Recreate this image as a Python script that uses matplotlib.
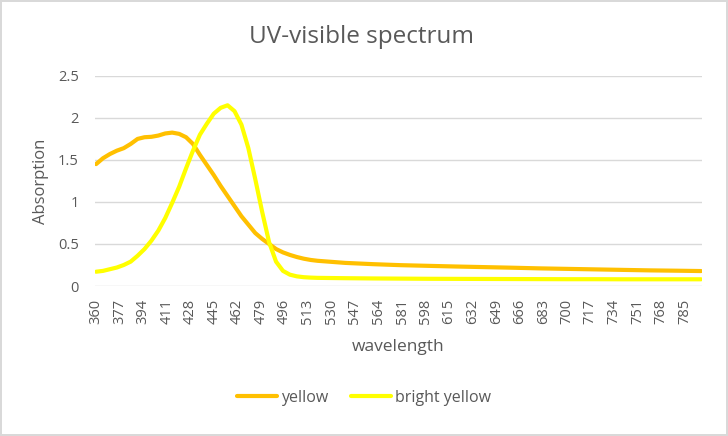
import matplotlib
matplotlib.use("Agg")
import matplotlib.pyplot as plt
import numpy as np

plt.rcParams['font.family'] = ['Open Sans', 'DejaVu Sans']

wavelength = [360, 365, 370, 375, 380, 385, 390, 395, 400, 405, 410, 415, 420, 425,
              430, 435, 440, 445, 450, 455, 460, 465, 470, 475, 480, 485, 490, 495,
              500, 505, 510, 515, 520, 540, 560, 580, 600, 620, 640, 660, 680, 700,
              720, 740, 760, 780, 797]
yellow = [1.45, 1.52, 1.57, 1.61, 1.64, 1.69, 1.75, 1.77, 1.775, 1.79, 1.815, 1.825, 1.81, 1.77,
          1.69, 1.56, 1.44, 1.32, 1.19, 1.07, 0.95, 0.83, 0.73, 0.63, 0.56, 0.50, 0.44, 0.40,
          0.37, 0.345, 0.325, 0.31, 0.30, 0.275, 0.26, 0.248, 0.24, 0.232, 0.225, 0.218, 0.21, 0.204,
          0.198, 0.192, 0.186, 0.182, 0.178]
bright_yellow = [0.17, 0.18, 0.20, 0.22, 0.25, 0.29, 0.36, 0.44, 0.54, 0.66, 0.81, 0.99, 1.18, 1.40,
                 1.61, 1.80, 1.93, 2.05, 2.12, 2.15, 2.08, 1.92, 1.64, 1.27, 0.88, 0.52, 0.29, 0.18,
                 0.135, 0.115, 0.105, 0.10, 0.097, 0.093, 0.09, 0.088, 0.086, 0.085, 0.084, 0.083, 0.082, 0.081,
                 0.081, 0.08, 0.08, 0.08, 0.08]
tick_labels = list(range(360, 786, 17))
y_ticks = [0, 0.5, 1, 1.5, 2, 2.5]

gray = '#595959'
fig = plt.figure(figsize=(7.28, 4.36), dpi=100)
fig.patch.set_facecolor('white')
fig.patch.set_edgecolor('#D9D9D9')
fig.patch.set_linewidth(1.5)

ax = fig.add_axes([0.131, 0.344, 0.833, 0.482])
ax.plot(wavelength, yellow, color='#FFC000', lw=3, solid_capstyle='round', label='yellow')
ax.plot(wavelength, bright_yellow, color='#FFFF00', lw=3, solid_capstyle='round', label='bright yellow')

ax.set_xlim(359.5, 797.5)
ax.set_ylim(0, 2.5)
ax.set_yticks(y_ticks)
ax.set_yticklabels(['0', '0.5', '1', '1.5', '2', '2.5'])
ax.set_xticks(tick_labels)
ax.set_xticklabels([str(t) for t in tick_labels], rotation=90)
ax.tick_params(axis='both', length=0, colors=gray, labelsize=10.5)
ax.tick_params(axis='y', pad=12)
ax.tick_params(axis='x', pad=9)
ax.grid(axis='y', color='#D9D9D9', lw=1)
ax.set_axisbelow(True)
for s in ax.spines.values():
    s.set_visible(False)

fig.text(0.497, 0.915, 'UV-visible spectrum', fontsize=17.5, color=gray, ha='center', va='center')
ax.set_ylabel('Absorption', fontsize=12, color=gray, labelpad=6)
ax.set_xlabel('wavelength', fontsize=12.5, color=gray, labelpad=11)

fig.legend(loc='center', bbox_to_anchor=(0.5, 0.087), ncol=2, frameon=False,
           fontsize=11.5, labelcolor=gray, handlelength=2.5, handletextpad=0.25, columnspacing=1.4)

fig.savefig('out.png', dpi=100)
